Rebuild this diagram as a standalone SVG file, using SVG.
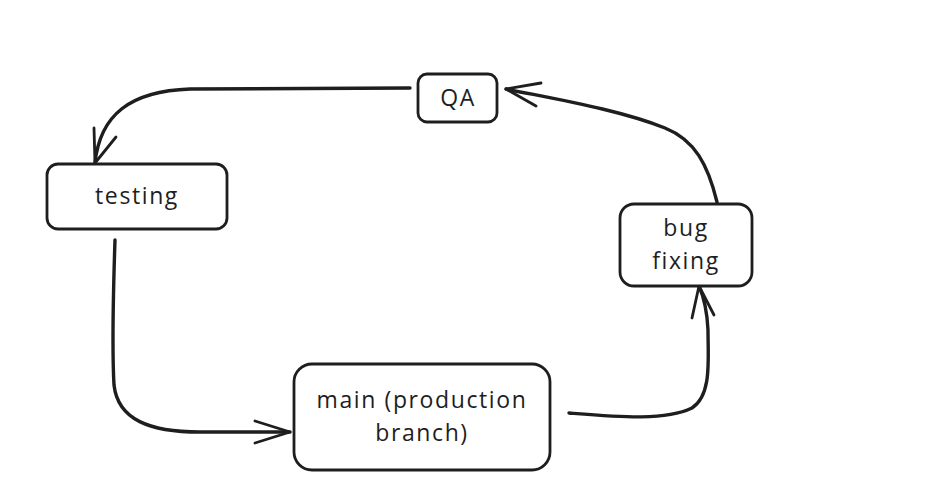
<svg xmlns="http://www.w3.org/2000/svg" width="940" height="498" viewBox="0 0 940 498">
<style>
.box{fill:#fff;stroke:#1e1e1e;stroke-width:2.8}
.lbl{font-family:"Open Sans","Liberation Sans",sans-serif;font-size:23px;fill:#1e1e1e;text-anchor:middle;letter-spacing:1.6px}
.edge{fill:none;stroke:#1e1e1e;stroke-width:3.4;stroke-linecap:round;stroke-linejoin:round}
.head{fill:none;stroke:#1e1e1e;stroke-width:2.8;stroke-linecap:round;stroke-linejoin:round}
</style>
<rect width="940" height="498" fill="#fff"/>
<g id="connectors">
<path class="edge" d="M410 88 L190 89 C130 91 100 115 95 163"/>
<path class="head" d="M94 128 L95 163 L116 137"/>
<path class="edge" d="M115 240 C113 300 112 350 114 385 C118 420 150 432 200 432 L290 432"/>
<path class="head" d="M255 421 L290 432 L255 443"/>
<path class="edge" d="M569 413 C620 417 665 421 692 408 C712 395 708 360 708 330 C707 310 703 295 699 286"/>
<path class="head" d="M692 318 L699 286 L714 315"/>
<path class="edge" d="M717 202 C708 165 695 140 665 128 C620 110 560 100 506 89"/>
<path class="head" d="M541 83 L506 89 L536 106"/>
</g>
<g id="qa">
<rect class="box" x="418" y="74" width="79" height="48" rx="9"/>
<text class="lbl" x="458" y="106">QA</text>
</g>
<g id="testing">
<rect class="box" x="47" y="164" width="180" height="65" rx="11"/>
<text class="lbl" x="137" y="204">testing</text>
</g>
<g id="main">
<rect class="box" x="294" y="364" width="256" height="106" rx="18"/>
<text class="lbl" x="422" y="408">main (production</text>
<text class="lbl" x="422" y="441">branch)</text>
</g>
<g id="bugfixing">
<rect class="box" x="620" y="204" width="132" height="82" rx="14"/>
<text class="lbl" x="686" y="236">bug</text>
<text class="lbl" x="686" y="269">fixing</text>
</g>
</svg>
